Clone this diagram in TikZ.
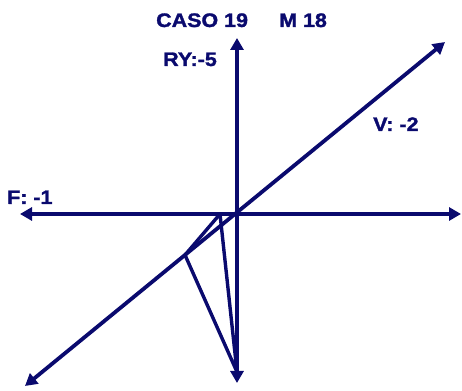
\documentclass[tikz,border=0pt]{standalone}
\usepackage{fontspec}
\setmainfont{Liberation Sans}[BoldFeatures={FakeBold=1.5}]
\usetikzlibrary{arrows.meta}
\definecolor{azulmarino}{RGB}{10,10,110}
\begin{document}
\begin{tikzpicture}[
    x=1pt,
    y=1pt,
    line cap=butt,
    line join=round,
    eje/.style={
        line width=3.8pt,
        azulmarino,
        {Triangle[width=13pt,length=12pt]}-{Triangle[width=13pt,length=12pt]}
    },
    lado/.style={
        line width=3.4pt,
        azulmarino
    },
    rotulo/.style={
        inner sep=0pt,
        anchor=base west,
        azulmarino,
        xscale=1.1,
        font=\fontsize{19.5}{21}\selectfont\bfseries
    }
]
\useasboundingbox (0,0) rectangle (462,390);

% =================================================
% Extremos de los ejes
% =================================================

\coordinate (O) at (237,176);

% Eje vertical
\coordinate (Arriba) at (237,352);
\coordinate (Abajo) at (237,7);

% Eje horizontal
\coordinate (Izq) at (20,176);
\coordinate (Der) at (461,176);

% Eje diagonal
\coordinate (DiagIzq) at (25,4);
\coordinate (DiagDer) at (445,348);

% =================================================
% Vertices del triangulo
% =================================================

\coordinate (A) at (220,176);
\coordinate (B) at (185,135);
\coordinate (C) at (237,18);

% =================================================
% Ejes
% =================================================

\draw[eje] (Izq)--(Der);
\draw[eje] (Abajo)--(Arriba);
\draw[eje] (DiagIzq)--(DiagDer);

% =================================================
% Triangulo
% =================================================

\draw[lado]
    (A)--(B)--(C)--cycle;

% =================================================
% Rotulos
% =================================================

\node[rotulo] (caso) at (156,363) {CASO 19};
\node[rotulo] (modelo) at (279,363) {M 18};
\node[rotulo] (ry) at (163,324) {RY:-5};
\node[rotulo] (v) at (373,259) {V: -2};
\node[rotulo] (f) at (7,186) {F: -1};

\end{tikzpicture}
\end{document}
